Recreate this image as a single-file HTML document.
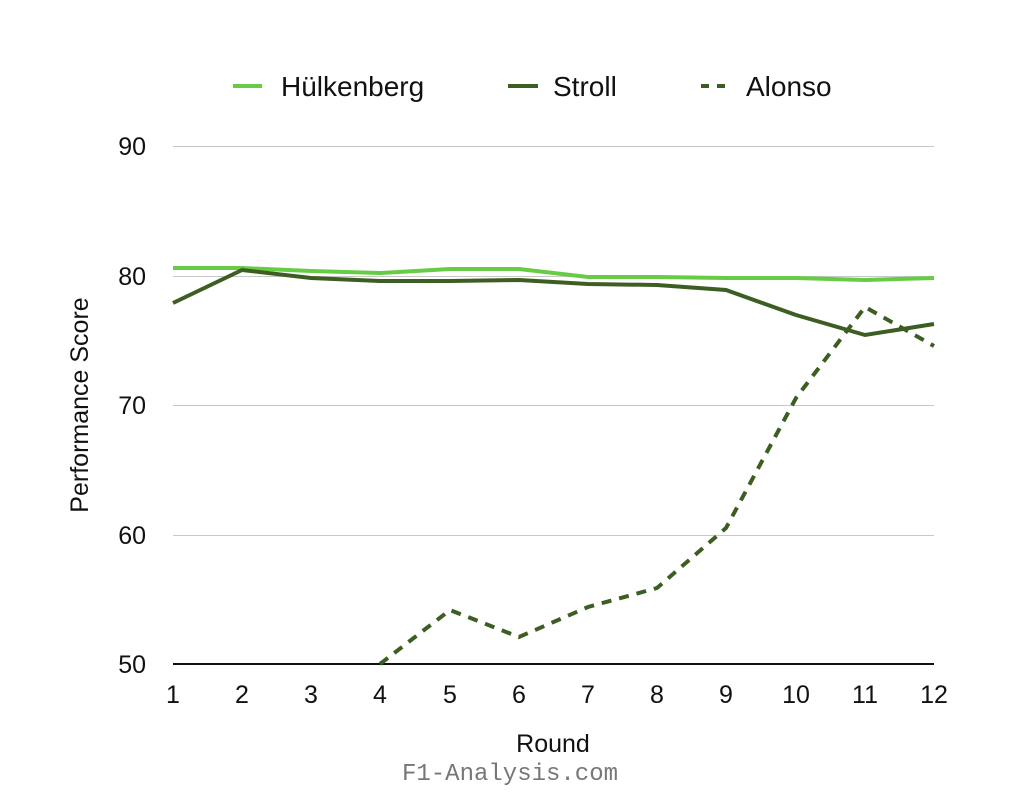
<!DOCTYPE html>
<html><head><style>body{margin:0;background:#fff}</style></head><body>
<svg width="1024" height="798" xmlns="http://www.w3.org/2000/svg" font-family="Liberation Sans, sans-serif">
<rect width="1024" height="798" fill="#fff"/>
<g stroke="#c8c8c8" stroke-width="1">
<line x1="173" y1="146.5" x2="934" y2="146.5"/>
<line x1="173" y1="276.5" x2="934" y2="276.5"/>
<line x1="173" y1="405.5" x2="934" y2="405.5"/>
<line x1="173" y1="535.5" x2="934" y2="535.5"/>
</g>
<line x1="173" y1="664" x2="934" y2="664" stroke="#111" stroke-width="2"/>
<g font-size="25" fill="#111" text-anchor="end">
<text x="146" y="155">90</text><text x="146" y="285">80</text><text x="146" y="414">70</text><text x="146" y="544">60</text><text x="146" y="673">50</text>
</g>
<g font-size="25" fill="#111" text-anchor="middle">
<text x="173" y="703">1</text><text x="242" y="703">2</text><text x="311" y="703">3</text><text x="380" y="703">4</text><text x="450" y="703">5</text><text x="519" y="703">6</text><text x="588" y="703">7</text><text x="657" y="703">8</text><text x="726" y="703">9</text><text x="796" y="703">10</text><text x="865" y="703">11</text><text x="934" y="703">12</text>
<text x="553" y="752">Round</text>
</g>
<text x="88" y="405" font-size="25" fill="#111" text-anchor="middle" transform="rotate(-90 88 405)">Performance Score</text>
<polyline fill="none" stroke="#66cc44" stroke-width="4" points="173,268 242,268 311,271 380,273 450,269 519,269 588,277 657,277 726,278 796,278 865,280 934,278"/>
<polyline fill="none" stroke="#3d5e22" stroke-width="4" points="173,303 242,270 311,278 380,281 450,281 519,280 588,284 657,285 726,290 796,315 865,335 934,324"/>
<polyline fill="none" stroke="#3d5e22" stroke-width="4" stroke-dasharray="10,8" points="380,664 450,610 519,637 588,607 657,588 726,528 796,398 865,307 934,346"/>
<g font-size="28" fill="#111">
<line x1="233" y1="86" x2="262" y2="86" stroke="#66cc44" stroke-width="4"/><text x="281" y="96">Hülkenberg</text>
<line x1="508" y1="86" x2="538" y2="86" stroke="#3d5e22" stroke-width="4"/><text x="553" y="96">Stroll</text>
<line x1="701" y1="86" x2="729" y2="86" stroke="#3d5e22" stroke-width="4" stroke-dasharray="8,8"/><text x="746" y="96">Alonso</text>
</g>
<text x="510" y="780" font-size="24" fill="#777" text-anchor="middle" font-family="Liberation Mono, monospace">F1-Analysis.com</text>
</svg>
</body></html>
